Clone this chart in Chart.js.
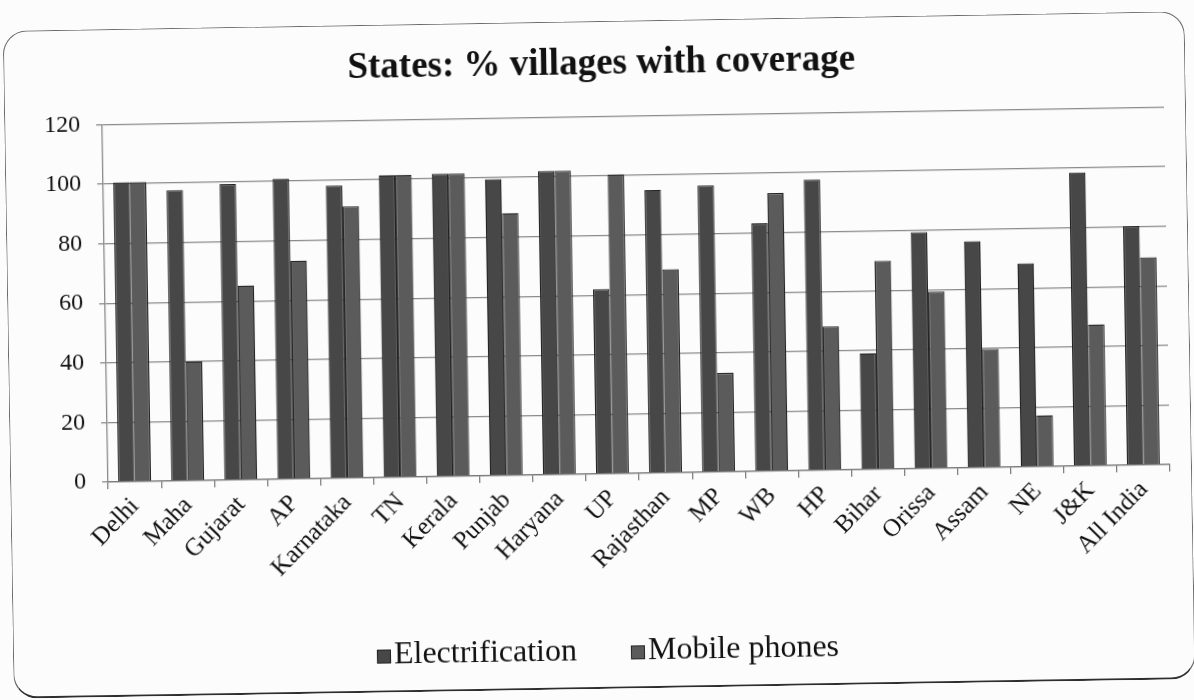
<!DOCTYPE html>
<html>
<head>
<meta charset="utf-8">
<title>States: % villages with coverage</title>
<script src="https://cdn.jsdelivr.net/npm/chart.js@4.4.1/dist/chart.umd.min.js"></script>
<style>
  html, body { margin: 0; padding: 0; background: #fcfcfc; }
  #sheet {
    position: relative; width: 1194px; height: 700px; overflow: visible;
    transform: rotate(-0.95deg); transform-origin: 597px 350px;
  }
  #frame {
    position: absolute; left: 8px; top: 21px; width: 1182px; height: 668px;
    border: 1.6px solid #6b6b6b; border-bottom: 2.6px solid #2e2e2e;
    border-radius: 24px; box-sizing: border-box;
  }
  #chart { position: absolute; left: 0; top: 0; }
</style>
</head>
<body>
<div id="sheet">
  <div id="frame"></div>
  <canvas id="chart" width="1194" height="700"></canvas>
</div>
<script>
// Share of villages covered, by state
const categories = ["Delhi", "Maha", "Gujarat", "AP", "Karnataka", "TN", "Kerala", "Punjab",
  "Haryana", "UP", "Rajasthan", "MP", "WB", "HP", "Bihar", "Orissa", "Assam", "NE", "J&K", "All India"];
const electrification = [100.5, 97.6, 99.3, 100.8, 98.2, 101.4, 101.6, 99.5, 101.9, 62,
  95, 96.2, 83.2, 97.6, 39, 79.4, 76, 68.3, 98.5, 80.2];
const mobilePhones = [100.5, 40, 65.2, 73.2, 91.2, 101.4, 101.6, 88, 101.9, 100.4,
  68.3, 33.2, 93.3, 48.2, 70, 59.3, 39.8, 17.2, 47.4, 69.6];
const yTicks = [0, 20, 40, 60, 80, 100, 120];

const SERIF = "'Liberation Serif', 'Times New Roman', serif";

// Legend drawn as a single row below the axis labels
const rowLegend = {
  id: 'rowLegend',
  afterDraw(chart) {
    const ctx = chart.ctx;
    const size = 32, box = 14, gapText = 3, gapItem = 54;
    ctx.save();
    ctx.font = size + "px " + SERIF;
    ctx.textBaseline = 'middle';
    const items = chart.data.datasets.map(ds => ({
      text: ds.label, fill: ds.backgroundColor, stroke: ds.borderColor,
      w: ctx.measureText(ds.label).width
    }));
    let total = 0;
    items.forEach((it, i) => { total += box + gapText + it.w + (i ? gapItem : 0); });
    let x = 603 - total / 2;
    const y = 652;
    items.forEach((it, i) => {
      if (i) x += gapItem;
      ctx.fillStyle = it.fill;
      ctx.fillRect(x, y - box / 2 + 1, box, box);
      ctx.strokeStyle = it.stroke; ctx.lineWidth = 1;
      ctx.strokeRect(x + 0.5, y - box / 2 + 1.5, box - 1, box - 1);
      x += box + gapText;
      ctx.fillStyle = '#111';
      ctx.fillText(it.text, x, y);
      x += it.w;
    });
    ctx.restore();
  }
};

new Chart(document.getElementById('chart'), {
  type: 'bar',
  data: {
    labels: categories,
    datasets: [
      { label: 'Electrification', data: electrification,
        backgroundColor: '#474747', borderColor: '#222', borderWidth: 1.2 },
      { label: 'Mobile phones', data: mobilePhones,
        backgroundColor: '#5b5b5b', borderColor: '#262626', borderWidth: 1.2 }
    ]
  },
  options: {
    responsive: false,
    animation: false,
    layout: { padding: { left: 44, right: 26, top: 0, bottom: 26 } },
    datasets: { bar: { categoryPercentage: 0.62, barPercentage: 1.0 } },
    plugins: {
      title: {
        display: true, text: 'States: % villages with coverage', color: '#111',
        font: { family: SERIF, size: 37, weight: 'bold' },
        padding: { top: 42, bottom: 30 }
      },
      legend: { display: false },
      tooltip: { enabled: false }
    },
    scales: {
      x: {
        grid: { display: true, drawOnChartArea: false, drawTicks: true, tickLength: 7,
          color: '#777', lineWidth: 1.2, offset: true },
        border: { display: true, color: '#777', width: 1.3 },
        ticks: { font: { family: SERIF, size: 25 }, color: '#111', autoSkip: false,
          maxRotation: 45, minRotation: 45, padding: 3 },
        afterFit(scale) { scale.height = 200; }
      },
      y: {
        min: 0, max: 120,
        afterBuildTicks(scale) { scale.ticks = yTicks.map(v => ({ value: v })); },
        ticks: { font: { family: SERIF, size: 24 }, color: '#111', padding: 16 },
        grid: { color: '#8a8a8a', lineWidth: 1.3, tickLength: 6 },
        border: { display: true, color: '#8a8a8a', width: 1.3 },
        afterFit(scale) { scale.width = 62; }
      }
    }
  },
  plugins: [rowLegend]
});
</script>
</body>
</html>
